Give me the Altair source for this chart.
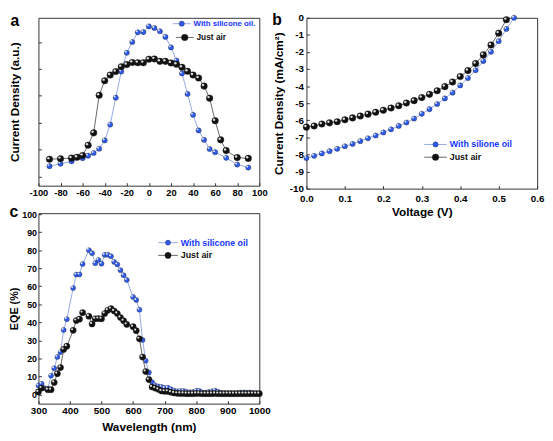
import altair as alt
import pandas as pd

# ---------------- Panel a ----------------
a_pos_blue = [-90, -80, -70, -60, -55, -50, -45, -40, -35, -30, -25, -20, -15, -10, -5, 0,
              5, 10, 15, 20, 25, 30, 35, 40, 45, 50, 55, 60, 70, 80, 90]
a_val_blue = [0.38, 0.47, 0.56, 0.68, 0.77, 0.87, 1.03, 1.34, 1.93, 2.93, 3.90, 4.60, 5.00, 5.36, 5.37, 5.58,
              5.52, 5.40, 5.19, 4.80, 4.31, 3.83, 3.07, 2.29, 1.71, 1.36, 1.02, 0.90, 0.69, 0.44, 0.33]
a_pos_black = [-90, -80, -70, -65, -60, -55, -50, -45, -40, -35, -30, -25, -20, -15, -10, -5, 0,
               5, 10, 15, 20, 25, 30, 35, 40, 45, 50, 55, 60, 65, 70, 80, 90]
a_val_black = [0.64, 0.66, 0.68, 0.71, 0.78, 1.16, 1.62, 3.02, 3.56, 3.77, 3.90, 4.08, 4.16, 4.24, 4.23, 4.23, 4.36,
               4.37, 4.28, 4.28, 4.22, 4.17, 4.06, 3.91, 3.77, 3.66, 3.36, 2.91, 2.07, 1.36, 0.96, 0.70, 0.67]
a_xticks = [-100, -80, -60, -40, -20, 0, 20, 40, 60, 80, 100]

# ---------------- Panel b ----------------
b_v_black = [0.00, 0.02, 0.04, 0.06, 0.08, 0.10, 0.12, 0.14, 0.16, 0.18, 0.20, 0.22, 0.24, 0.26,
             0.28, 0.30, 0.32, 0.34, 0.36, 0.38, 0.40, 0.42, 0.44, 0.46, 0.48, 0.50, 0.52]
b_j_black = [-6.40, -6.33, -6.22, -6.15, -6.08, -5.97, -5.86, -5.75, -5.64, -5.53, -5.41, -5.28, -5.15, -4.99,
             -4.85, -4.67, -4.48, -4.27, -4.03, -3.76, -3.44, -3.09, -2.68, -2.17, -1.59, -0.90, -0.11]
b_v_blue = [0.00, 0.02, 0.04, 0.06, 0.08, 0.10, 0.12, 0.14, 0.16, 0.18, 0.20, 0.22, 0.24, 0.26,
            0.28, 0.30, 0.32, 0.34, 0.36, 0.38, 0.40, 0.42, 0.44, 0.46, 0.48, 0.50, 0.52, 0.54]
b_j_blue = [-8.21, -8.08, -7.94, -7.81, -7.67, -7.52, -7.38, -7.22, -7.05, -6.89, -6.71, -6.53, -6.33, -6.13,
            -5.90, -5.62, -5.35, -5.05, -4.72, -4.38, -3.96, -3.53, -3.07, -2.53, -1.99, -1.37, -0.65, 0.0]
b_xticks = [0.0, 0.1, 0.2, 0.3, 0.4, 0.5, 0.6]
b_yticks = [-10, -9, -8, -7, -6, -5, -4, -3, -2, -1, 0]

# ---------------- Panel c ----------------
c_wl_blue = [300, 310, 320, 330, 340, 350, 360, 370, 380, 390, 410, 420, 430, 440, 460, 470, 480, 490,
             500, 510, 520, 530, 540, 550, 560, 570, 580, 600, 610, 620, 630, 640, 650, 660, 670, 680,
             690, 700, 710, 720, 730, 740, 750, 760, 770, 780, 790, 800, 810, 820, 830, 840, 850, 860,
             870, 880, 890, 900, 910, 920, 930, 940, 950, 960, 970, 980, 990, 1000]
c_eqe_blue = [5.0, 6.0, 3.5, 3.3, 10.5, 14.6, 20.8, 23.5, 35.8, 41.8, 59.0, 66.5, 66.5, 72.3, 80.0, 78.3, 72.7, 74.5,
              72.5, 77.4, 77.4, 76.6, 73.5, 72.1, 68.9, 66.1, 63.5, 54.0, 52.4, 47.0, 30.2, 18.8, 12.3, 6.9, 5.1, 4.5,
              4.2, 3.6, 3.8, 2.9, 2.2, 1.8, 2.0, 2.0, 1.5, 1.3, 1.5, 2.2, 2.0, 1.1, 1.1, 1.5, 1.8, 2.2,
              1.5, 0.9, 0.8, 0.7, 0.7, 0.7, 0.8, 1.1, 1.2, 1.0, 1.1, 0.8, 0.7, 0.7]
c_wl_black = [300, 310, 330, 340, 350, 360, 370, 380, 390, 410, 420, 430, 440, 460, 470, 480, 490, 500,
              510, 520, 530, 540, 550, 560, 570, 580, 600, 610, 620, 630, 640, 650, 660, 670, 680, 690,
              700, 710, 720, 730, 740, 750, 760, 770, 780, 790, 800, 810, 820, 830, 840, 850, 860, 870,
              880, 890, 900, 910, 920, 930, 940, 950, 960, 970, 980, 990, 1000]
c_eqe_black = [1.5, 3.6, 2.7, 2.7, 6.7, 11.6, 15.0, 25.0, 26.8, 35.6, 41.0, 41.8, 45.4, 43.4, 39.1, 42.0, 42.1, 42.0,
               44.9, 46.7, 47.6, 46.3, 44.9, 42.7, 40.9, 38.9, 37.6, 35.4, 30.9, 20.8, 12.8, 8.3, 4.2, 3.6, 2.9, 2.0,
               1.8, 1.8, 1.3, 0.9, 0.7, 0.6, 0.6, 0.5, 0.5, 0.5, 0.6, 0.6, 0.5, 0.5, 0.5, 0.5, 0.6, 0.5,
               0.5, 0.5, 0.5, 0.5, 0.5, 0.5, 0.5, 0.5, 0.5, 0.5, 0.5, 0.5, 0.5]
c_xticks = [300, 400, 500, 600, 700, 800, 900, 1000]
c_yticks = [0, 10, 20, 30, 40, 50, 60, 70, 80, 90, 100]

BLUE = "#2f5cf0"
BLUE_LINE = "#93a9e6"
BLUE_TEXT = "#1536ff"
BLACK = "#111111"
BLACK_LINE = "#666666"
FONT = "Liberation Sans"
HYPHEN = "toString(datum.value)"

one = pd.DataFrame({"k": [0]})


def series(xs, ys, xenc, yenc, line_color, pt_color, pt_size, hl_size):
    df = pd.DataFrame({"x": xs, "y": ys})
    base = alt.Chart(df).encode(x=xenc, y=yenc)
    line = base.mark_line(color=line_color, strokeWidth=1)
    pts = base.mark_circle(color=pt_color, size=pt_size, opacity=1,
                           stroke="#222222", strokeWidth=0.4)
    hl = base.mark_circle(color="white", size=hl_size, opacity=0.85, xOffset=-1.1, yOffset=-1.1)
    return [line, pts, hl]


def legend_item(x0, x1, y, text, line_color, pt_color, pt_size, text_color, fsize=9):
    ln = alt.Chart(one).mark_rule(color=line_color, strokeWidth=1).encode(
        x=alt.value(x0), x2=alt.value(x1), y=alt.value(y))
    pt = alt.Chart(one).mark_circle(color=pt_color, size=pt_size, opacity=1,
                                    stroke="#222222", strokeWidth=0.4).encode(
        x=alt.value((x0 + x1) / 2), y=alt.value(y))
    tx = alt.Chart(one).mark_text(text=text, align="left", baseline="middle", font=FONT,
                                  fontWeight="bold", fontSize=fsize, color=text_color).encode(
        x=alt.value(x1 + 3), y=alt.value(y))
    return [ln, pt, tx]


def panel_label(x, y, t):
    return alt.Chart(one).mark_text(text=t, align="center", baseline="middle", font=FONT,
                                    fontWeight="bold", fontSize=16, color="black").encode(
        x=alt.value(x), y=alt.value(y))


# ---------- Chart a ----------
ax = alt.X("x:Q", scale=alt.Scale(domain=[-100, 100], nice=False),
           axis=alt.Axis(values=a_xticks, title=None, labelExpr=HYPHEN, labelFlush=False,
                         labelOverlap=False, labelFontSize=9.5))
ay = alt.Y("y:Q", scale=alt.Scale(domain=[-0.345, 5.9], nice=False, zero=False),
           axis=alt.Axis(values=[0, 1, 2, 3, 4, 5], labels=False, title="Current Density (a.u.)",
                         titlePadding=17))
layers_a = (series(a_pos_blue, a_val_blue, ax, ay, BLUE_LINE, BLUE, 28, 4)
            + series(a_pos_black, a_val_black, ax, ay, BLACK_LINE, BLACK, 45, 6)
            + legend_item(137, 155, 6, "With silicone oil.", BLUE_LINE, BLUE, 28, BLUE_TEXT, 8)
            + legend_item(140, 158, 20, "Just air", BLACK_LINE, BLACK, 45, BLACK, 8.5)
            + [panel_label(-24, 3, "a")])
chart_a = alt.layer(*layers_a).properties(width=225, height=171)

# ---------- Chart b ----------
bx = alt.X("x:Q", scale=alt.Scale(domain=[0, 0.6], nice=False),
           axis=alt.Axis(values=b_xticks, format=".1f", title="Voltage (V)", labelFlush=False,
                         labelOverlap=False, labelPadding=5, titlePadding=3))
by = alt.Y("y:Q", scale=alt.Scale(domain=[-10, 0], nice=False, zero=False),
           axis=alt.Axis(values=b_yticks, labelExpr=HYPHEN, title="Current Density (mA/cm²)",
                         titlePadding=4, labelPadding=3, labelFlush=False, labelOverlap=False))
layers_b = (series(b_v_blue, b_j_blue, bx, by, BLUE_LINE, BLUE, 28, 4)
            + series(b_v_black, b_j_black, bx, by, BLACK_LINE, BLACK, 45, 6)
            + legend_item(120, 143, 129, "With silione oil", BLUE_LINE, BLUE, 28, BLUE_TEXT)
            + legend_item(120, 143, 142, "Just air", BLACK_LINE, BLACK, 45, BLACK)
            + [panel_label(-30, 2, "b")])
chart_b = alt.layer(*layers_b).properties(width=235, height=174)

# ---------- Chart c ----------
cx = alt.X("x:Q", scale=alt.Scale(domain=[300, 1000], nice=False),
           axis=alt.Axis(values=c_xticks, format="d", title="Wavelength (nm)", labelFlush=False,
                         labelOverlap=False, titlePadding=6))
cy = alt.Y("y:Q", scale=alt.Scale(domain=[-5, 100.5], nice=False, zero=False),
           axis=alt.Axis(values=c_yticks, format="d", title="EQE (%)", titlePadding=2,
                         titleFontSize=11, labelPadding=2, labelFontSize=9, labelOverlap=False,
                         labelFlush=False))
layers_c = (series(c_wl_blue, c_eqe_blue, cx, cy, BLUE_LINE, BLUE, 26, 4)
            + series(c_wl_black, c_eqe_black, cx, cy, BLACK_LINE, BLACK, 40, 5)
            + legend_item(122, 142, 30, "With silicone oil", BLUE_LINE, BLUE, 26, BLUE_TEXT)
            + legend_item(122, 142, 43, "Just air", BLACK_LINE, BLACK, 40, BLACK)
            + [panel_label(-25, -1, "c")])
chart_c = alt.layer(*layers_c).properties(width=225, height=194)

chart = alt.concat(chart_a, chart_b, chart_c, columns=2, bounds="flush",
                   spacing={"row": 25, "column": 48}).properties(
    padding={"left": 0, "top": -1, "right": 0, "bottom": 0}
).configure_view(stroke="#333333", strokeWidth=1).configure_axis(
    labelFont=FONT, titleFont=FONT, labelFontWeight="bold", titleFontWeight="bold",
    labelFontSize=10, titleFontSize=12, labelColor="black", titleColor="black",
    domain=False, offset=-3, tickColor="#333333", tickSize=3, labelPadding=2, grid=False
)

chart.save("out.html", embed_options={"renderer": "svg", "actions": False})
